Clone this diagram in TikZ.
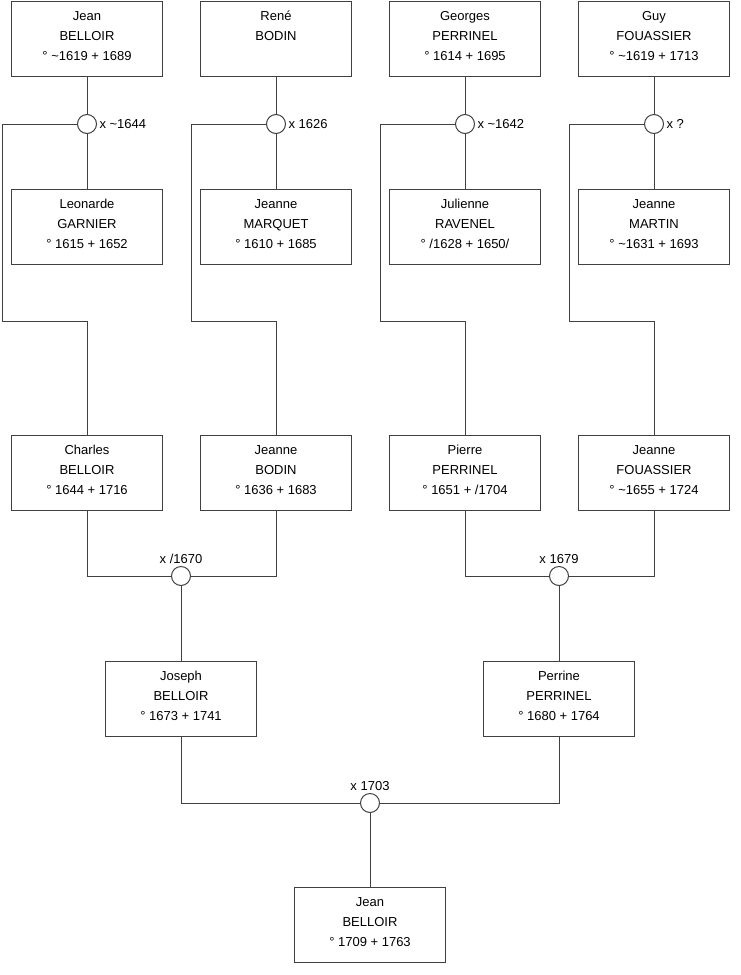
\documentclass[tikz,border=0pt]{standalone}
\usepackage{fontspec}
\setmainfont{Liberation Sans}
\newcommand{\ca}{\textasciitilde}
\begin{document}
\begin{tikzpicture}[x=1pt, y=-1pt, font=\fontsize{13}{20}\selectfont,
  line width=1pt, draw=black!75,
  person/.style={draw=black!75, minimum width=151pt, minimum height=75pt, align=center,
    inner sep=0pt, text depth=5.5pt},
  wed/.style={draw=black!75, fill=white, circle, minimum size=19pt, inner sep=0pt},
  lbl/.style={font=\fontsize{13}{15}\selectfont, inner sep=2pt}]
  \useasboundingbox (0,0) rectangle (740,975);

  % top row: fathers
  \node[person] (jean1)    at (87,38.5)  {Jean\\BELLOIR\\° \ca1619 + 1689};
  \node[person] (rene)     at (276,38.5) {René\\BODIN\\};
  \node[person] (georges)  at (465,38.5) {Georges\\PERRINEL\\° 1614 + 1695};
  \node[person] (guy)      at (654,38.5) {Guy\\FOUASSIER\\° \ca1619 + 1713};

  % second row: mothers
  \node[person] (leonarde) at (87,227)  {Leonarde\\GARNIER\\° 1615 + 1652};
  \node[person] (jeanneM)  at (276,227) {Jeanne\\MARQUET\\° 1610 + 1685};
  \node[person] (julienne) at (465,227) {Julienne\\RAVENEL\\° /1628 + 1650/};
  \node[person] (jeanneMa) at (654,227) {Jeanne\\MARTIN\\° \ca1631 + 1693};

  % marriages of the top row
  \node[wed, label={[lbl]right:x \ca1644}] (w1) at (87,124)  {};
  \node[wed, label={[lbl]right:x 1626}]    (w2) at (276,124) {};
  \node[wed, label={[lbl]right:x \ca1642}] (w3) at (465,124) {};
  \node[wed, label={[lbl]right:x ?}]       (w4) at (654,124) {};

  % third row: children
  \node[person] (charles)  at (87,473)  {Charles\\BELLOIR\\° 1644 + 1716};
  \node[person] (jeanneB)  at (276,473) {Jeanne\\BODIN\\° 1636 + 1683};
  \node[person] (pierre)   at (465,473) {Pierre\\PERRINEL\\° 1651 + /1704};
  \node[person] (jeanneF)  at (654,473) {Jeanne\\FOUASSIER\\° \ca1655 + 1724};

  \node[wed, label={[lbl]above:x /1670}] (w5) at (181,576) {};
  \node[wed, label={[lbl]above:x 1679}]  (w6) at (559,576) {};

  % fourth row
  \node[person] (joseph)   at (181,699) {Joseph\\BELLOIR\\° 1673 + 1741};
  \node[person] (perrine)  at (559,699) {Perrine\\PERRINEL\\° 1680 + 1764};

  \node[wed, label={[lbl]above:x 1703}] (w7) at (370,803) {};

  % last one
  \node[person] (jean2)    at (370,925) {Jean\\BELLOIR\\° 1709 + 1763};

  % bends of the child lines
  \coordinate (k1) at (2,321);
  \coordinate (k2) at (191,321);
  \coordinate (k3) at (380,321);
  \coordinate (k4) at (569,321);

  % couples and their child
  \foreach \dad/\w/\mum/\k/\kid in {jean1/w1/leonarde/k1/charles, rene/w2/jeanneM/k2/jeanneB,
      georges/w3/julienne/k3/pierre, guy/w4/jeanneMa/k4/jeanneF} {
    \draw (\dad.south) -- (\w.north);
    \draw (\w.south) -- (\mum.north);
    \draw (\w.west) -| (\k) -| (\kid.north);
  }

  \draw (charles.south) |- (w5.west);
  \draw (w5.east) -| (jeanneB.south);
  \draw (w5.south) -- (joseph.north);

  \draw (pierre.south) |- (w6.west);
  \draw (w6.east) -| (jeanneF.south);
  \draw (w6.south) -- (perrine.north);

  \draw (joseph.south) |- (w7.west);
  \draw (w7.east) -| (perrine.south);
  \draw (w7.south) -- (jean2.north);
\end{tikzpicture}
\end{document}
